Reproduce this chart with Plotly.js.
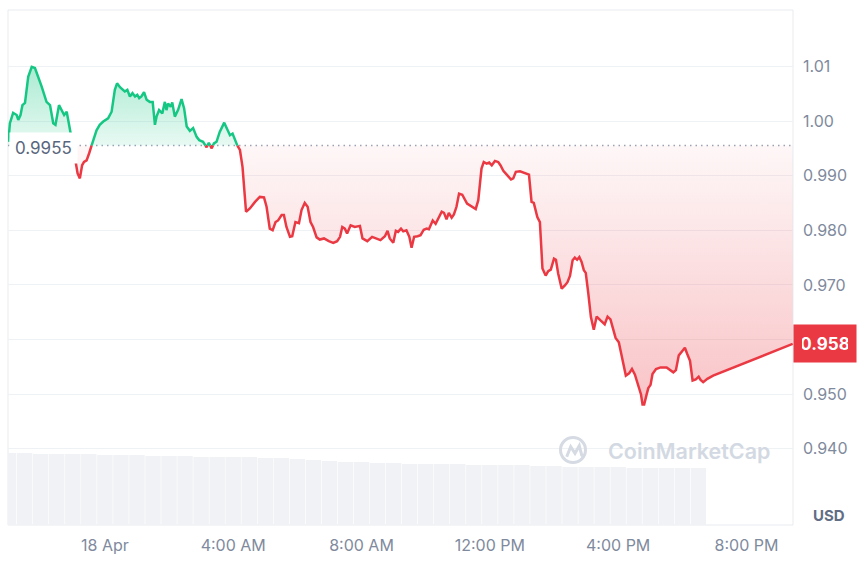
<!DOCTYPE html>
<html>
<head>
<meta charset="utf-8">
<script src="https://cdn.plot.ly/plotly-3.0.1.min.js"></script>
<style>
  html, body { margin: 0; padding: 0; background: #fff; }
  #chart { width: 861px; height: 561px; }
</style>
</head>
<body>
<div id="chart"></div>
<script>
// hours relative to 18 Apr 00:00, price in USD
const hours = [
  -3.01,-2.96,-2.86,-2.75,-2.70,-2.63,-2.57,-2.49,-2.39,-2.28,
  -2.18,-2.08,-1.97,-1.82,-1.71,-1.61,-1.54,-1.43,-1.33,-1.27,
  -1.19,-1.09,-0.90,-0.85,-0.78,-0.71,-0.65,-0.57,-0.49,-0.41,
  -0.26,-0.16,-0.05,0.10,0.21,0.31,0.38,0.47,0.55,0.62,
  0.70,0.78,0.86,0.94,1.01,1.07,1.14,1.22,1.30,1.40,
  1.49,1.56,1.61,1.69,1.79,1.87,1.92,1.97,2.05,2.10,
  2.18,2.28,2.39,2.47,2.55,2.65,2.75,2.86,2.94,3.06,
  3.17,3.24,3.33,3.40,3.48,3.58,3.72,3.79,3.90,3.98,
  4.12,4.21,4.29,
  4.40,4.52,4.68,4.83,4.96,5.04,5.14,5.23,5.32,5.40,
  5.51,5.58,5.66,5.77,5.84,5.94,6.05,6.13,6.23,6.32,
  6.41,6.49,6.60,6.70,6.83,6.98,7.12,7.24,7.33,7.40,
  7.48,7.55,7.66,7.79,7.95,8.03,8.18,8.33,8.47,8.59,
  8.73,8.81,8.88,8.99,9.07,9.14,9.23,9.30,9.40,9.49,
  9.56,9.64,9.75,9.84,9.94,10.03,10.10,10.22,10.31,10.39,
  10.50,10.57,10.65,10.72,10.81,10.88,10.96,11.04,11.14,11.29,
  11.43,11.56,11.64,
  11.74,11.81,11.90,11.98,12.06,12.16,12.26,12.33,12.42,12.54,
  12.66,12.73,12.81,12.94,13.09,13.22,13.30,13.37,13.48,13.56,
  13.64,13.74,13.82,13.90,14.00,14.06,14.13,14.24,14.34,14.42,
  14.50,14.58,14.65,14.72,14.79,14.86,14.93,14.99,15.07,15.15,
  15.24,15.33,15.45,15.58,15.67,15.76,15.84,15.92,16.02,16.13,
  16.24,16.34,16.43,16.52,16.62,16.71,16.76,16.81,16.89,16.94,
  17.01,17.07,17.18,17.32,17.51,17.61,17.72,17.80,17.89,18.00,
  18.08,18.15,18.24,18.32,18.42,18.51,18.57,18.65,18.78,18.96,
  21.44
];
const price = [
  0.9962,0.9996,1.0015,1.0011,1.0002,1.0011,1.0029,1.0033,1.0081,1.0099,
  1.0097,1.0081,1.0063,1.0035,1.0029,0.9996,0.9993,1.0029,1.0017,1.0011,
  1.0017,0.9983,0.9925,0.9904,0.9895,0.9919,0.9925,0.9928,0.9941,0.9956,
  0.9983,0.9993,0.9999,1.0005,1.0017,1.0057,1.0069,1.0062,1.0058,1.0054,
  1.0057,1.0045,1.0051,1.0045,1.0048,1.0042,1.0045,1.0053,1.0039,1.0035,
  1.0035,0.9993,1.0008,1.0020,1.0014,1.0035,1.0020,1.0032,1.0026,1.0034,
  1.0008,1.0020,1.0040,1.0023,0.9990,0.9982,0.9987,0.9971,0.9965,0.9962,
  0.9952,0.9960,0.9950,0.9959,0.9962,0.9980,0.9997,0.9987,0.9974,0.9977,
  0.9956,0.9947,0.9916,
  0.9834,0.9840,0.9852,0.9861,0.9860,0.9843,0.9803,0.9800,0.9815,0.9818,
  0.9828,0.9828,0.9806,0.9788,0.9789,0.9815,0.9813,0.9837,0.9850,0.9843,
  0.9815,0.9806,0.9787,0.9783,0.9785,0.9780,0.9777,0.9780,0.9788,0.9806,
  0.9803,0.9794,0.9809,0.9806,0.9808,0.9785,0.9780,0.9788,0.9785,0.9782,
  0.9789,0.9799,0.9785,0.9777,0.9799,0.9797,0.9803,0.9798,0.9800,0.9788,
  0.9768,0.9788,0.9789,0.9791,0.9801,0.9803,0.9802,0.9818,0.9812,0.9821,
  0.9834,0.9832,0.9820,0.9832,0.9823,0.9829,0.9843,0.9867,0.9865,0.9849,
  0.9844,0.9839,0.9855,
  0.9913,0.9925,0.9922,0.9924,0.9919,0.9927,0.9925,0.9919,0.9909,0.9901,
  0.9893,0.9895,0.9907,0.9908,0.9905,0.9902,0.9852,0.9850,0.9824,0.9815,
  0.9730,0.9717,0.9725,0.9728,0.9748,0.9746,0.9721,0.9693,0.9699,0.9705,
  0.9717,0.9745,0.9750,0.9746,0.9751,0.9742,0.9727,0.9722,0.9684,0.9641,
  0.9618,0.9642,0.9635,0.9628,0.9642,0.9637,0.9620,0.9603,0.9595,0.9567,
  0.9534,0.9538,0.9546,0.9536,0.9519,0.9500,0.9481,0.9481,0.9500,0.9511,
  0.9517,0.9537,0.9546,0.9549,0.9549,0.9545,0.9540,0.9544,0.9571,0.9579,
  0.9585,0.9574,0.9561,0.9525,0.9527,0.9532,0.9526,0.9522,0.9528,0.9534,
  0.9592
];
const baseline = 0.9955;
const lastLabel = "0.958";

// volume, one bar per half hour
const volHours = [-3,-2.5,-2,-1.5,-1,-0.5,0,0.5,1,1.5,2,2.5,3,3.5,4,4.5,5,5.5,6,6.5,
  7,7.5,8,8.5,9,9.5,10,10.5,11,11.5,12,12.5,13,13.5,14,14.5,15,15.5,16,16.5,17,17.5,18,18.5];
const volume = [72,72,71,71,71,71,70,70,70,69,69,69,68,68,68,68,67,67,66,65,
  64,63,63,62,62,61,61,61,61,60,60,60,60,59,59,58,58,58,58,57,57,57,57,57];

const xTickVals = [0, 4, 8, 12, 16, 20];
const xTickText = ["18 Apr", "4:00 AM", "8:00 AM", "12:00 PM", "4:00 PM", "8:00 PM"];
// 0.960 sits under the last-price tag, so its label stays empty
const yTickVals = [0.94, 0.95, 0.96, 0.97, 0.98, 0.99, 1.00, 1.01];
const yTickText = ["0.940", "0.950", "", "0.970", "0.980", "0.990", "1.00", "1.01"];

const GREEN = "#16c784";
const RED = "#ea3943";
const X0 = -3.02, X1 = 21.45;

// add the points where the price crosses the baseline so the colour can switch there
const xs = [], ys = [];
for (let i = 0; i < hours.length; i++) {
  if (i > 0) {
    const a = price[i - 1] - baseline, b = price[i] - baseline;
    if (a * b < 0) {
      const t = a / (a - b);
      xs.push(hours[i - 1] + t * (hours[i] - hours[i - 1]));
      ys.push(baseline);
    }
  }
  xs.push(hours[i]);
  ys.push(price[i]);
}
const upLine = ys.map(v => (v >= baseline ? v : null));
const downLine = ys.map(v => (v <= baseline ? v : null));
const upFill = ys.map(v => Math.max(v, baseline));
const downFill = ys.map(v => Math.min(v, baseline));
const baseArr = xs.map(() => baseline);

const traces = [
  {
    type: "bar", x: volHours, y: volume, yaxis: "y2",
    marker: { color: "#f0f2f5" }, hoverinfo: "skip"
  },
  { x: xs, y: baseArr, mode: "lines", line: { width: 0 }, hoverinfo: "skip" },
  {
    x: xs, y: upFill, mode: "none", fill: "tonexty",
    fillgradient: { type: "vertical", colorscale: [[0, "rgba(22,199,132,0.10)"], [1, "rgba(22,199,132,0.36)"]] },
    hoverinfo: "skip"
  },
  { x: xs, y: baseArr, mode: "lines", line: { width: 0 }, hoverinfo: "skip" },
  {
    x: xs, y: downFill, mode: "none", fill: "tonexty",
    fillgradient: { type: "vertical", colorscale: [[0, "rgba(234,57,67,0.30)"], [1, "rgba(234,57,67,0.04)"]] },
    hoverinfo: "skip"
  },
  { x: xs, y: upLine, mode: "lines", line: { color: GREEN, width: 2.5 } },
  { x: xs, y: downLine, mode: "lines", line: { color: RED, width: 2.5 } }
];

// paper coords for the watermark, from pixel positions of the plot box (8..793, 10..525)
const px = v => (v - 8) / 785;
const py = v => (525 - v) / 515;

const layout = {
  width: 861,
  height: 561,
  margin: { l: 8, r: 68, t: 10, b: 36 },
  paper_bgcolor: "#ffffff",
  plot_bgcolor: "#ffffff",
  showlegend: false,
  hovermode: false,
  bargap: 0.04,
  font: { family: "Inter, 'Noto Sans', sans-serif", color: "#808a9d", size: 16 },
  xaxis: {
    range: [X0, X1],
    tickvals: xTickVals,
    ticktext: xTickText,
    showgrid: false,
    zeroline: false,
    showline: false,
    ticks: "",
    ticklabelstandoff: 9
  },
  yaxis: {
    side: "right",
    range: [0.92605, 1.02032],
    tickvals: yTickVals,
    ticktext: yTickText,
    showgrid: true,
    gridcolor: "#eff2f5",
    zeroline: false,
    showline: false,
    ticks: "",
    ticklabelstandoff: 9
  },
  yaxis2: { overlaying: "y", range: [0, 515], visible: false },
  shapes: [
    {
      type: "rect", xref: "paper", yref: "paper", x0: 0, x1: 1, y0: 0, y1: 1,
      line: { color: "#e8ebf0", width: 1 }, layer: "below"
    },
    {
      type: "line", xref: "x", yref: "y", x0: X0, x1: X1, y0: baseline, y1: baseline,
      line: { color: "#9aa3b3", width: 1.5, dash: "1.5px,4px" }, layer: "below"
    },
    {
      type: "circle", xref: "paper", yref: "paper",
      x0: px(560.5), x1: px(585.5), y0: py(462.5), y1: py(437.5),
      line: { color: "#d5dae3", width: 3 }
    },
    {
      type: "path", xref: "paper", yref: "paper",
      path: "M " + px(566.7) + "," + py(456.7) + " L " + px(570.7) + "," + py(446.7) +
            " L " + px(575) + "," + py(453.3) + " L " + px(579.3) + "," + py(445.7) +
            " L " + px(581.7) + "," + py(455) + " L " + px(584) + "," + py(456.7),
      line: { color: "#d5dae3", width: 3 }
    }
  ],
  annotations: [
    {
      x: 0, xref: "paper", xanchor: "left", xshift: 1,
      y: baseline, yref: "y", yanchor: "middle", yshift: -2,
      text: String(baseline), showarrow: false,
      font: { size: 17, color: "#58667e" },
      bgcolor: "#ffffff", borderpad: 5
    },
    {
      x: 1, xref: "paper", xanchor: "left",
      y: price[price.length - 1], yref: "y", yanchor: "middle",
      text: "<b>" + lastLabel + "</b>", showarrow: false,
      font: { size: 17, color: "#ffffff" },
      bgcolor: RED, borderpad: 8, width: 46, height: 21
    },
    {
      x: 1, xref: "paper", xanchor: "left", xshift: 18,
      y: 0, yref: "paper", yanchor: "bottom", yshift: -2,
      text: "<b>USD</b>", showarrow: false,
      font: { size: 15, color: "#616e85" }
    },
    {
      x: px(606), xref: "paper", xanchor: "left",
      y: py(451), yref: "paper", yanchor: "middle",
      text: "CoinMarketCap", showarrow: false,
      font: { size: 21.5, color: "#d3d9e2", weight: 600 }
    }
  ]
};

Plotly.newPlot("chart", traces, layout, { displayModeBar: false, staticPlot: true });
</script>
</body>
</html>
